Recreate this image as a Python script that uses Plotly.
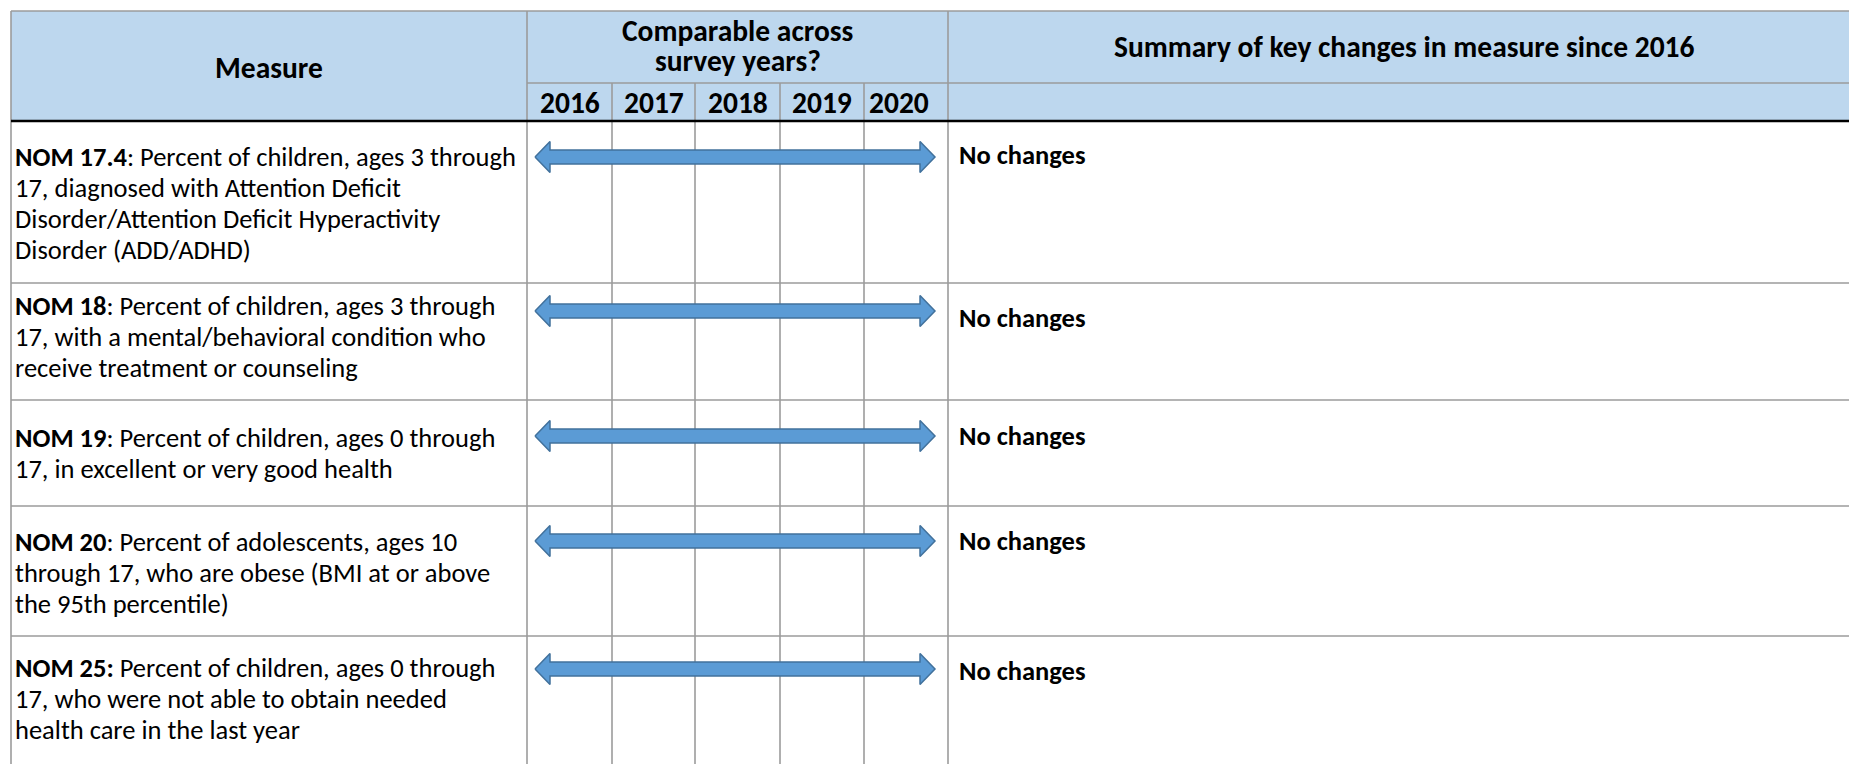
import plotly.graph_objects as go

# ---------------- data ----------------
years = ["2016", "2017", "2018", "2019", "2020"]
measure_ids = ["NOM 17.4", "NOM 18", "NOM 19", "NOM 20", "NOM 25:"]
measure_lines = [
    [": Percent of children, ages 3 through",
     "17, diagnosed with Attention Deficit",
     "Disorder/Attention Deficit Hyperactivity",
     "Disorder (ADD/ADHD)"],
    [": Percent of children, ages 3 through",
     "17, with a mental/behavioral condition who",
     "receive treatment or counseling"],
    [": Percent of children, ages 0 through",
     "17, in excellent or very good health"],
    [": Percent of adolescents, ages 10",
     "through 17, who are obese (BMI at or above",
     "the 95th percentile)"],
    [" Percent of children, ages 0 through",
     "17, who were not able to obtain needed",
     "health care in the last year"],
]
comparable_from = ["2016", "2016", "2016", "2016", "2016"]
comparable_to = ["2020", "2020", "2020", "2020", "2020"]
summaries = ["No changes", "No changes", "No changes", "No changes", "No changes"]

header_measure = "Measure"
header_comparable = ["Comparable across", "survey years?"]
header_summary = "Summary of key changes in measure since 2016"

# ---------------- layout (pixels) ----------------
W, H = 1849, 764
X_LEFT = 11
X_RIGHT = 1860
YEAR_EDGES = [527, 612, 695, 780, 864, 948]
Y_TOP = 11
Y_HMID = 83
Y_HBOT = 121
ROW_BOTTOMS = [283, 400, 506, 636]
ROW_FIRST_Y = [157, 306, 438, 542, 668]
ARROW_Y = [157, 311, 436, 541, 669]
SUMMARY_Y = [155, 318, 436, 541, 671]
LINE_SP = 31
YEAR_ALIGN = ["center", "center", "center", "center", "left"]

FONT = "Carlito, Calibri, Lato, sans-serif"
BODY_SIZE = 26.5
HEAD_SIZE = 29.5
GRID = "#9b9b9b"
HEADER_FILL = "#BDD7EE"
ARROW_FILL = "#5B9BD5"
ARROW_LINE = "#41719C"

fig = go.Figure()
shapes = []
ann = []

# header background
shapes.append(dict(type="rect", xref="x", yref="y", x0=X_LEFT, x1=X_RIGHT, y0=Y_TOP, y1=Y_HBOT,
                   fillcolor=HEADER_FILL, line=dict(width=0), layer="below"))

def hline(x0, x1, y, color=GRID, w=1.6):
    shapes.append(dict(type="line", xref="x", yref="y", x0=x0, x1=x1, y0=y, y1=y,
                       line=dict(color=color, width=w), layer="below"))

def vline(x, y0, y1, color=GRID, w=1.6):
    shapes.append(dict(type="line", xref="x", yref="y", x0=x, x1=x, y0=y0, y1=y1,
                       line=dict(color=color, width=w), layer="below"))

hline(X_LEFT, X_RIGHT, Y_TOP)
hline(YEAR_EDGES[0], X_RIGHT, Y_HMID)
for yb in ROW_BOTTOMS:
    hline(X_LEFT, X_RIGHT, yb)
vline(X_LEFT, Y_TOP, H + 5)
vline(YEAR_EDGES[0], Y_TOP, H + 5)
vline(YEAR_EDGES[-1], Y_TOP, H + 5)
for xe in YEAR_EDGES[1:-1]:
    vline(xe, Y_HMID, H + 5)
hline(X_LEFT, X_RIGHT, Y_HBOT, color="#000000", w=2.6)

# header texts
ann.append(dict(x=(X_LEFT + YEAR_EDGES[0]) / 2, y=68, text="<b>%s</b>" % header_measure,
                xanchor="center", yanchor="middle", font=dict(size=HEAD_SIZE)))
for i, t in enumerate(header_comparable):
    ann.append(dict(x=(YEAR_EDGES[0] + YEAR_EDGES[-1]) / 2, y=31 + i * 30, text="<b>%s</b>" % t,
                    xanchor="center", yanchor="middle", font=dict(size=HEAD_SIZE)))
ann.append(dict(x=(YEAR_EDGES[-1] + X_RIGHT) / 2, y=47, text="<b>%s</b>" % header_summary,
                xanchor="center", yanchor="middle", font=dict(size=HEAD_SIZE)))
for i, yr in enumerate(years):
    if YEAR_ALIGN[i] == "center":
        ann.append(dict(x=(YEAR_EDGES[i] + YEAR_EDGES[i + 1]) / 2, y=103, text="<b>%s</b>" % yr,
                        xanchor="center", yanchor="middle", font=dict(size=HEAD_SIZE)))
    else:
        ann.append(dict(x=YEAR_EDGES[i] + 3, y=103, text="<b>%s</b>" % yr,
                        xanchor="left", yanchor="middle", font=dict(size=HEAD_SIZE)))

# body rows
for r in range(len(measure_ids)):
    y0 = ROW_FIRST_Y[r]
    for j, line in enumerate(measure_lines[r]):
        txt = ("<b>%s</b>%s" % (measure_ids[r], line)) if j == 0 else line
        ann.append(dict(x=X_LEFT + 2, y=y0 + j * LINE_SP, text=txt, xanchor="left",
                        yanchor="middle", font=dict(size=BODY_SIZE)))
    ann.append(dict(x=YEAR_EDGES[-1] + 9, y=SUMMARY_Y[r], text="<b>%s</b>" % summaries[r],
                    xanchor="left", yanchor="middle", font=dict(size=BODY_SIZE)))

    # arrow spanning the comparable years
    i0 = years.index(comparable_from[r])
    i1 = years.index(comparable_to[r])
    xa = YEAR_EDGES[i0] + 8
    xb = YEAR_EDGES[i1 + 1] - 13
    ya = ARROW_Y[r]
    head, hh, sh = 15, 15.5, 7
    px = [xa, xa + head, xa + head, xb - head, xb - head, xb, xb - head, xb - head, xa + head, xa + head, xa]
    py = [ya, ya - hh, ya - sh, ya - sh, ya - hh, ya, ya + hh, ya + sh, ya + sh, ya + hh, ya]
    fig.add_trace(go.Scatter(x=px, y=py, mode="lines", fill="toself", fillcolor=ARROW_FILL,
                             line=dict(color=ARROW_LINE, width=1.5), hoverinfo="skip",
                             showlegend=False))

for a in ann:
    a.update(xref="x", yref="y", showarrow=False)
    a["font"].update(family=FONT, color="#000000")

fig.update_layout(
    width=W, height=H, margin=dict(l=0, r=0, t=0, b=0),
    paper_bgcolor="white", plot_bgcolor="white",
    xaxis=dict(range=[0, W], visible=False, fixedrange=True),
    yaxis=dict(range=[H, 0], visible=False, fixedrange=True),
    shapes=shapes, annotations=ann, showlegend=False,
)

fig.write_html("out.html", config={"displayModeBar": False},
               post_script="document.body.style.margin='0';document.body.style.overflow='hidden';")
